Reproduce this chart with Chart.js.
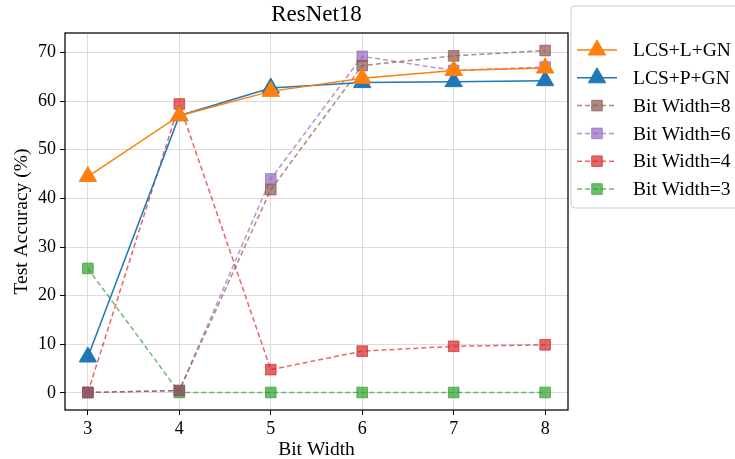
<!DOCTYPE html>
<html>
<head>
<meta charset="utf-8">
<script src="https://cdn.jsdelivr.net/npm/chart.js@4.4.1/dist/chart.umd.min.js"></script>
<style>
  html, body { margin: 0; padding: 0; background: #fff; }
  #wrap { width: 735px; height: 459px; }
</style>
</head>
<body>
<div id="wrap"><canvas id="accChart" width="735" height="459"></canvas></div>
<script>
// bit widths on the x axis
const bitWidths = [3, 4, 5, 6, 7, 8];

// test accuracy (%) per method
const lcsLGN = [44.5, 57.0, 62.0, 64.7, 66.3, 66.8];
const lcsPGN = [7.4, 57.0, 62.7, 63.8, 64.0, 64.2];
const bw8 = [0.1, 0.5, 41.8, 67.3, 69.3, 70.4];
const bw6 = [0.1, 0.5, 44.0, 69.2, 66.3, 67.0];
const bw4 = [0.1, 59.4, 4.8, 8.6, 9.6, 9.9];
const bw3 = [25.6, 0.1, 0.1, 0.1, 0.1, 0.1];

const xTicks = [3, 4, 5, 6, 7, 8];
const yTicks = [0, 10, 20, 30, 40, 50, 60, 70];

const serif = '"Liberation Serif", "Times New Roman", serif';

const pts = vals => vals.map((v, i) => ({ x: bitWidths[i], y: v }));

function solid(label, vals, color) {
  return {
    label, data: pts(vals),
    borderColor: color, backgroundColor: color,
    pointBackgroundColor: color, pointBorderColor: color,
    borderWidth: 1.5, pointBorderWidth: 1,
    pointStyle: 'triangle', pointRadius: 10, pointHoverRadius: 10,
    tension: 0, fill: false
  };
}

function dashed(label, vals, rgb) {
  const c = `rgba(${rgb},0.7)`;
  return {
    label, data: pts(vals),
    borderColor: c, backgroundColor: c,
    pointBackgroundColor: c, pointBorderColor: c,
    borderWidth: 1.5, borderDash: [5, 3], pointBorderWidth: 1,
    pointStyle: 'rect', pointRadius: 7.5, pointHoverRadius: 7.5,
    tension: 0, fill: false
  };
}

const datasets = [
  solid('LCS+L+GN', lcsLGN, '#ff7f0e'),
  solid('LCS+P+GN', lcsPGN, '#1f77b4'),
  dashed('Bit Width=8', bw8, '140,86,75'),
  dashed('Bit Width=6', bw6, '148,103,189'),
  dashed('Bit Width=4', bw4, '214,39,40'),
  dashed('Bit Width=3', bw3, '44,160,44')
];

// black box around the plotting area
const frame = {
  id: 'frame',
  afterDatasetsDraw(chart) {
    const { ctx, chartArea: a } = chart;
    ctx.save();
    ctx.strokeStyle = '#000';
    ctx.lineWidth = 1.25;
    ctx.strokeRect(a.left, a.top, a.right - a.left, a.bottom - a.top);
    ctx.restore();
  }
};

// legend outside the axes, to the right
const sideLegend = {
  id: 'sideLegend',
  afterDraw(chart) {
    const { ctx } = chart;
    const x0 = 571, y0 = 6, w = 180, h = 202;
    ctx.save();
    ctx.beginPath();
    ctx.roundRect(x0, y0, w, h, 4);
    ctx.fillStyle = 'rgba(255,255,255,0.9)';
    ctx.fill();
    ctx.strokeStyle = '#cccccc';
    ctx.lineWidth = 1;
    ctx.stroke();
    chart.data.datasets.forEach((ds, i) => {
      const y = 50 + i * 27.8;
      ctx.strokeStyle = ds.borderColor;
      ctx.lineWidth = ds.borderWidth;
      ctx.setLineDash(ds.borderDash || []);
      ctx.beginPath();
      ctx.moveTo(577, y);
      ctx.lineTo(617, y);
      ctx.stroke();
      ctx.setLineDash([]);
      ctx.fillStyle = ds.pointBackgroundColor;
      ctx.strokeStyle = ds.pointBorderColor;
      ctx.lineWidth = 1;
      Chart.helpers.drawPoint(ctx, {
        pointStyle: ds.pointStyle, radius: ds.pointRadius, rotation: 0, borderWidth: 1
      }, 597, y);
      ctx.fillStyle = '#000';
      ctx.font = `19.5px ${serif}`;
      ctx.textBaseline = 'middle';
      ctx.fillText(ds.label, 633, y + 1);
    });
    ctx.restore();
  }
};

new Chart(document.getElementById('accChart'), {
  type: 'line',
  data: { datasets },
  plugins: [frame, sideLegend],
  options: {
    responsive: false,
    animation: false,
    layout: { padding: { top: 0, right: 167, bottom: 0, left: 0 } },
    plugins: {
      legend: { display: false },
      tooltip: { enabled: false },
      title: {
        display: true, text: 'ResNet18', fullSize: false,
        color: '#000', font: { family: serif, size: 23, weight: 'normal' },
        padding: { top: 1, bottom: 4.4 }
      }
    },
    scales: {
      x: {
        type: 'linear', min: 2.75, max: 8.25,
        afterFit: s => { s.height = 49; },
        afterBuildTicks: s => { s.ticks = xTicks.map(v => ({ value: v })); },
        ticks: { color: '#000', font: { family: serif, size: 18 }, padding: 3, maxRotation: 0 },
        grid: { color: '#dcdcdc', lineWidth: 1, tickColor: '#000', tickLength: 5 },
        border: { display: false },
        title: {
          display: true, text: 'Bit Width', color: '#000',
          font: { family: serif, size: 19.5 }, padding: { top: 0, bottom: -3 }
        }
      },
      y: {
        min: -3.5, max: 74,
        afterFit: s => { s.width = 65; },
        afterBuildTicks: s => { s.ticks = yTicks.map(v => ({ value: v })); },
        ticks: { color: '#000', font: { family: serif, size: 18 }, padding: 4 },
        grid: { color: '#dcdcdc', lineWidth: 1, tickColor: '#000', tickLength: 5 },
        border: { display: false },
        title: {
          display: true, text: 'Test Accuracy (%)', color: '#000',
          font: { family: serif, size: 19.5 }, padding: { top: 10, bottom: 0 }
        }
      }
    }
  }
});
</script>
</body>
</html>
